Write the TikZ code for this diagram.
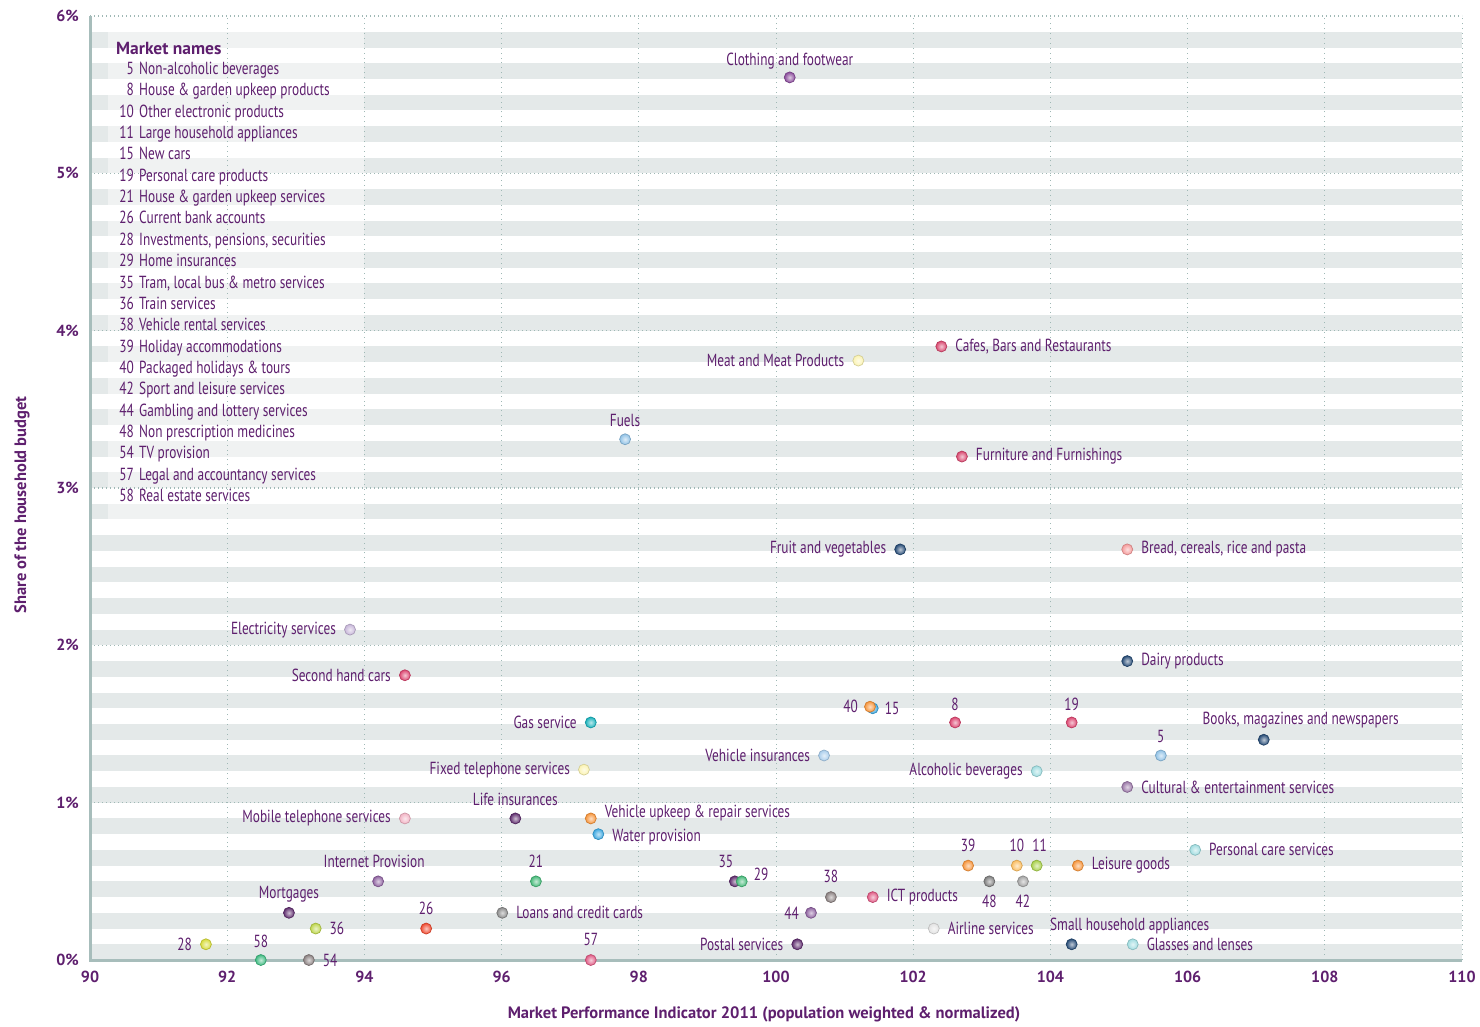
\documentclass[tikz,border=0pt]{standalone}
\usepackage{fontspec}
\setmainfont{PT Sans}[FakeStretch=0.76]
\newfontfamily\axisfont{PT Sans}
\usetikzlibrary{positioning}

\definecolor{txtpurple}{HTML}{5E1F6E}
\definecolor{stripegray}{HTML}{E4E9E9}
\definecolor{gridteal}{HTML}{9FB8B5}
\definecolor{axisteal}{HTML}{A7BDBB}
\definecolor{plum}{HTML}{8A4B9B}
\definecolor{rose}{HTML}{D9486F}
\definecolor{cream}{HTML}{FBF3B0}
\definecolor{sky}{HTML}{8FC1E6}
\definecolor{navy}{HTML}{264B76}
\definecolor{salmon}{HTML}{F59A9A}
\definecolor{lilac}{HTML}{C7B6D9}
\definecolor{cherry}{HTML}{DC4570}
\definecolor{orange}{HTML}{F7943A}
\definecolor{azure}{HTML}{3BA7E0}
\definecolor{teal}{HTML}{19B2BC}
\definecolor{powder}{HTML}{A9CDEC}
\definecolor{aqua}{HTML}{9FDCE0}
\definecolor{mauve}{HTML}{9B78A8}
\definecolor{grape}{HTML}{5F2D6E}
\definecolor{blush}{HTML}{F2B3C4}
\definecolor{peach}{HTML}{FBBD5F}
\definecolor{lime}{HTML}{A8D04A}
\definecolor{violet}{HTML}{8E62A0}
\definecolor{jade}{HTML}{44B978}
\definecolor{slate}{HTML}{7D7D7D}
\definecolor{silver}{HTML}{A3A3A3}
\definecolor{taupe}{HTML}{8A8080}
\definecolor{fuchsia}{HTML}{E05A84}
\definecolor{chartreuse}{HTML}{BDD64A}
\definecolor{vermilion}{HTML}{F04A30}
\definecolor{mist}{HTML}{E2E2E2}
\definecolor{mustard}{HTML}{D7DC3A}
\definecolor{mint}{HTML}{3DBA80}
\definecolor{grayish}{HTML}{8B8B8B}

\tikzset{
  lbl/.style={text=txtpurple, font=\fontsize{17.5}{20}\selectfont, inner sep=1pt},
  dot/.style={circle, inner sep=0pt, minimum size=11pt, inner color=#1!30!white,
    outer color=#1, draw=#1!85!black, line width=0.7pt},
  ticklbl/.style={text=txtpurple, font=\axisfont\bfseries\fontsize{16}{18}\selectfont, inner sep=0pt},
  titlelbl/.style={text=txtpurple, font=\axisfont\bfseries\fontsize{16.5}{18}\selectfont, inner sep=0pt},
  hgrid/.style={gridteal, line width=1.3pt, dash pattern=on 1.3pt off 2.7pt},
  vgrid/.style={gridteal, line width=0.9pt, dash pattern=on 0.9pt off 4pt}
}

\begin{document}
\begin{tikzpicture}[x=1pt,y=-1pt]
  \useasboundingbox (0,0) rectangle (1480,1026);
  \begin{scope}[shift={(-6084,960)}, x=68.6pt, y=157.33pt]
    \foreach \k in {0,...,29}
      \fill[stripegray] (90,0.2*\k) rectangle (110,0.2*\k+0.1);
    \fill[white, opacity=0.45] (90.26,2.8) rectangle (94,5.9);
    \foreach \v in {92,94,...,110}
      \draw[vgrid] (\v,0) -- (\v,6);
    \foreach \v in {1,...,6}
      \draw[hgrid] (90,\v) -- (110,\v);
    \draw[axisteal, line width=3pt] (90,6) -- (90,0) -- (110,0);
    \foreach \v in {0,...,6}
      \node[ticklbl, left=11pt] (yt\v) at (90,\v) {\v\%};
    \foreach \v in {90,92,...,110}
      \node[ticklbl, below=11pt] (xt\v) at (\v,0) {\v};

    \path
      (100.20,5.61) node[dot=plum] (clothing) {}
      (102.41,3.90) node[dot=rose] (cafes) {}
      (101.20,3.81) node[dot=cream] (meat) {}
      (97.80,3.31) node[dot=sky] (fuels) {}
      (102.71,3.20) node[dot=rose] (furniture) {}
      (101.81,2.61) node[dot=navy] (fruit) {}
      (105.12,2.61) node[dot=salmon] (bread) {}
      (93.79,2.10) node[dot=lilac] (electricity) {}
      (105.12,1.90) node[dot=navy] (dairy) {}
      (94.59,1.81) node[dot=cherry] (secondhand) {}
      (101.41,1.60) node[dot=azure] (m15) {}
      (101.37,1.61) node[dot=orange] (m40) {}
      (102.61,1.51) node[dot=cherry] (m8) {}
      (104.31,1.51) node[dot=cherry] (m19) {}
      (97.30,1.51) node[dot=teal] (gas) {}
      (107.11,1.40) node[dot=navy] (books) {}
      (105.61,1.30) node[dot=sky] (m5) {}
      (100.70,1.30) node[dot=powder] (vehins) {}
      (97.20,1.21) node[dot=cream] (fixedtel) {}
      (103.80,1.20) node[dot=aqua] (alcohol) {}
      (105.12,1.10) node[dot=mauve] (cultural) {}
      (96.20,0.90) node[dot=grape] (lifeins) {}
      (94.59,0.90) node[dot=blush] (mobile) {}
      (97.30,0.90) node[dot=orange] (vehupkeep) {}
      (97.41,0.80) node[dot=azure] (water) {}
      (106.11,0.70) node[dot=aqua] (perscare) {}
      (102.80,0.60) node[dot=orange] (m39) {}
      (103.51,0.60) node[dot=peach] (m10) {}
      (103.80,0.60) node[dot=lime] (m11) {}
      (104.40,0.60) node[dot=orange] (leisure) {}
      (94.20,0.50) node[dot=violet] (internet) {}
      (96.50,0.50) node[dot=jade] (m21) {}
      (99.40,0.50) node[dot=grape] (m35) {}
      (99.50,0.50) node[dot=jade] (m29) {}
      (103.11,0.50) node[dot=slate] (m48) {}
      (103.60,0.50) node[dot=silver] (m42) {}
      (100.80,0.40) node[dot=taupe] (m38) {}
      (101.41,0.40) node[dot=fuchsia] (ict) {}
      (92.90,0.30) node[dot=grape] (mortgages) {}
      (96.01,0.30) node[dot=grayish] (loans) {}
      (100.51,0.30) node[dot=violet] (m44) {}
      (93.29,0.20) node[dot=chartreuse] (m36) {}
      (94.90,0.20) node[dot=vermilion] (m26) {}
      (102.30,0.20) node[dot=mist] (airline) {}
      (104.31,0.10) node[dot=navy] (smallapp) {}
      (105.20,0.10) node[dot=aqua] (glasses) {}
      (91.69,0.10) node[dot=mustard] (m28) {}
      (100.31,0.10) node[dot=grape] (postal) {}
      (92.49,0.00) node[dot=mint] (m58) {}
      (93.19,0.00) node[dot=taupe] (m54) {}
      (97.30,0.00) node[dot=fuchsia] (m57) {};

    \node[lbl, above=1pt of clothing] (clothingL) {Clothing and footwear};
    \node[lbl, right=7pt of cafes] (cafesL) {Cafes, Bars and Restaurants};
    \node[lbl, left=7pt of meat] (meatL) {Meat and Meat Products};
    \node[lbl, above=5pt of fuels] (fuelsL) {Fuels};
    \node[lbl, right=7pt of furniture] (furnitureL) {Furniture and Furnishings};
    \node[lbl, left=7pt of fruit] (fruitL) {Fruit and vegetables};
    \node[lbl, right=7pt of bread] (breadL) {Bread, cereals, rice and pasta};
    \node[lbl, left=7pt of electricity] (electricityL) {Electricity services};
    \node[lbl, right=7pt of dairy] (dairyL) {Dairy products};
    \node[lbl, left=7pt of secondhand] (secondhandL) {Second hand cars};
    \node[lbl, left=5pt of m40] (m40L) {40};
    \node[lbl, right=5pt of m15] (m15L) {15};
    \node[lbl, above=5pt of m8] (m8L) {8};
    \node[lbl, above=5pt of m19] (m19L) {19};
    \node[lbl, left=7pt of gas] (gasL) {Gas service};
    \node[lbl, above=4pt of books, xshift=37pt] (booksL) {Books, magazines and newspapers};
    \node[lbl, above=6pt of m5] (m5L) {5};
    \node[lbl, left=7pt of vehins] (vehinsL) {Vehicle insurances};
    \node[lbl, left=7pt of fixedtel] (fixedtelL) {Fixed telephone services};
    \node[lbl, left=7pt of alcohol] (alcoholL) {Alcoholic beverages};
    \node[lbl, right=7pt of cultural] (culturalL) {Cultural \& entertainment services};
    \node[lbl, above=6pt of lifeins] (lifeinsL) {Life insurances};
    \node[lbl, left=7pt of mobile] (mobileL) {Mobile telephone services};
    \node[lbl, right=7pt of vehupkeep, yshift=5pt] (vehupkeepL) {Vehicle upkeep \& repair services};
    \node[lbl, right=7pt of water, yshift=-3pt] (waterL) {Water provision};
    \node[lbl, right=7pt of perscare] (perscareL) {Personal care services};
    \node[lbl, above=7pt of m39] (m39L) {39};
    \node[lbl, above=7pt of m10] (m10L) {10};
    \node[lbl, above=7pt of m11, xshift=3pt] (m11L) {11};
    \node[lbl, right=7pt of leisure] (leisureL) {Leisure goods};
    \node[lbl, above=7pt of internet, xshift=-4pt] (internetL) {Internet Provision};
    \node[lbl, above=7pt of m21] (m21L) {21};
    \node[lbl, above=7pt of m35, xshift=-9pt] (m35L) {35};
    \node[lbl, right=5pt of m29, yshift=7pt] (m29L) {29};
    \node[lbl, below=7pt of m48] (m48L) {48};
    \node[lbl, below=7pt of m42] (m42L) {42};
    \node[lbl, above=7pt of m38] (m38L) {38};
    \node[lbl, right=7pt of ict] (ictL) {ICT products};
    \node[lbl, above=4pt of mortgages] (mortgagesL) {Mortgages};
    \node[lbl, right=7pt of loans] (loansL) {Loans and credit cards};
    \node[lbl, left=5pt of m44] (m44L) {44};
    \node[lbl, right=7pt of m36] (m36L) {36};
    \node[lbl, above=7pt of m26] (m26L) {26};
    \node[lbl, right=7pt of airline] (airlineL) {Airline services};
    \node[lbl, above=3pt of smallapp, xshift=58pt] (smallappL) {Small household appliances};
    \node[lbl, right=7pt of glasses] (glassesL) {Glasses and lenses};
    \node[lbl, left=7pt of m28] (m28L) {28};
    \node[lbl, left=7pt of postal] (postalL) {Postal services};
    \node[lbl, above=5pt of m58] (m58L) {58};
    \node[lbl, right=7pt of m54] (m54L) {54};
    \node[lbl, above=7pt of m57] (m57L) {57};
  \end{scope}

  \node[titlelbl, anchor=west, font=\axisfont\bfseries\fontsize{17.5}{19}\selectfont] (legtitle) at (116,48) {Market names};
  \foreach \num/\name [count=\i from 0] in {
      5/Non-alcoholic beverages,
      8/House \& garden upkeep products,
      10/Other electronic products,
      11/Large household appliances,
      15/New cars,
      19/Personal care products,
      21/House \& garden upkeep services,
      26/Current bank accounts,
      28/{Investments, pensions, securities},
      29/Home insurances,
      35/{Tram, local bus \& metro services},
      36/Train services,
      38/Vehicle rental services,
      39/Holiday accommodations,
      40/Packaged holidays \& tours,
      42/Sport and leisure services,
      44/Gambling and lottery services,
      48/Non prescription medicines,
      54/TV provision,
      57/Legal and accountancy services,
      58/Real estate services} {
    \node[lbl, inner sep=0pt, anchor=base east] (legnum\i) at (134,74.5+21.35*\i) {\num};
    \node[lbl, inner sep=0pt, anchor=base west] (legname\i) at (139,74.5+21.35*\i) {\name};
  }

  \node[titlelbl, rotate=90] (ytitle) at (22,505) {Share of the household budget};
  \node[titlelbl] (xtitle) at (764,1014) {Market Performance Indicator 2011 (population weighted \& normalized)};
\end{tikzpicture}
\end{document}
